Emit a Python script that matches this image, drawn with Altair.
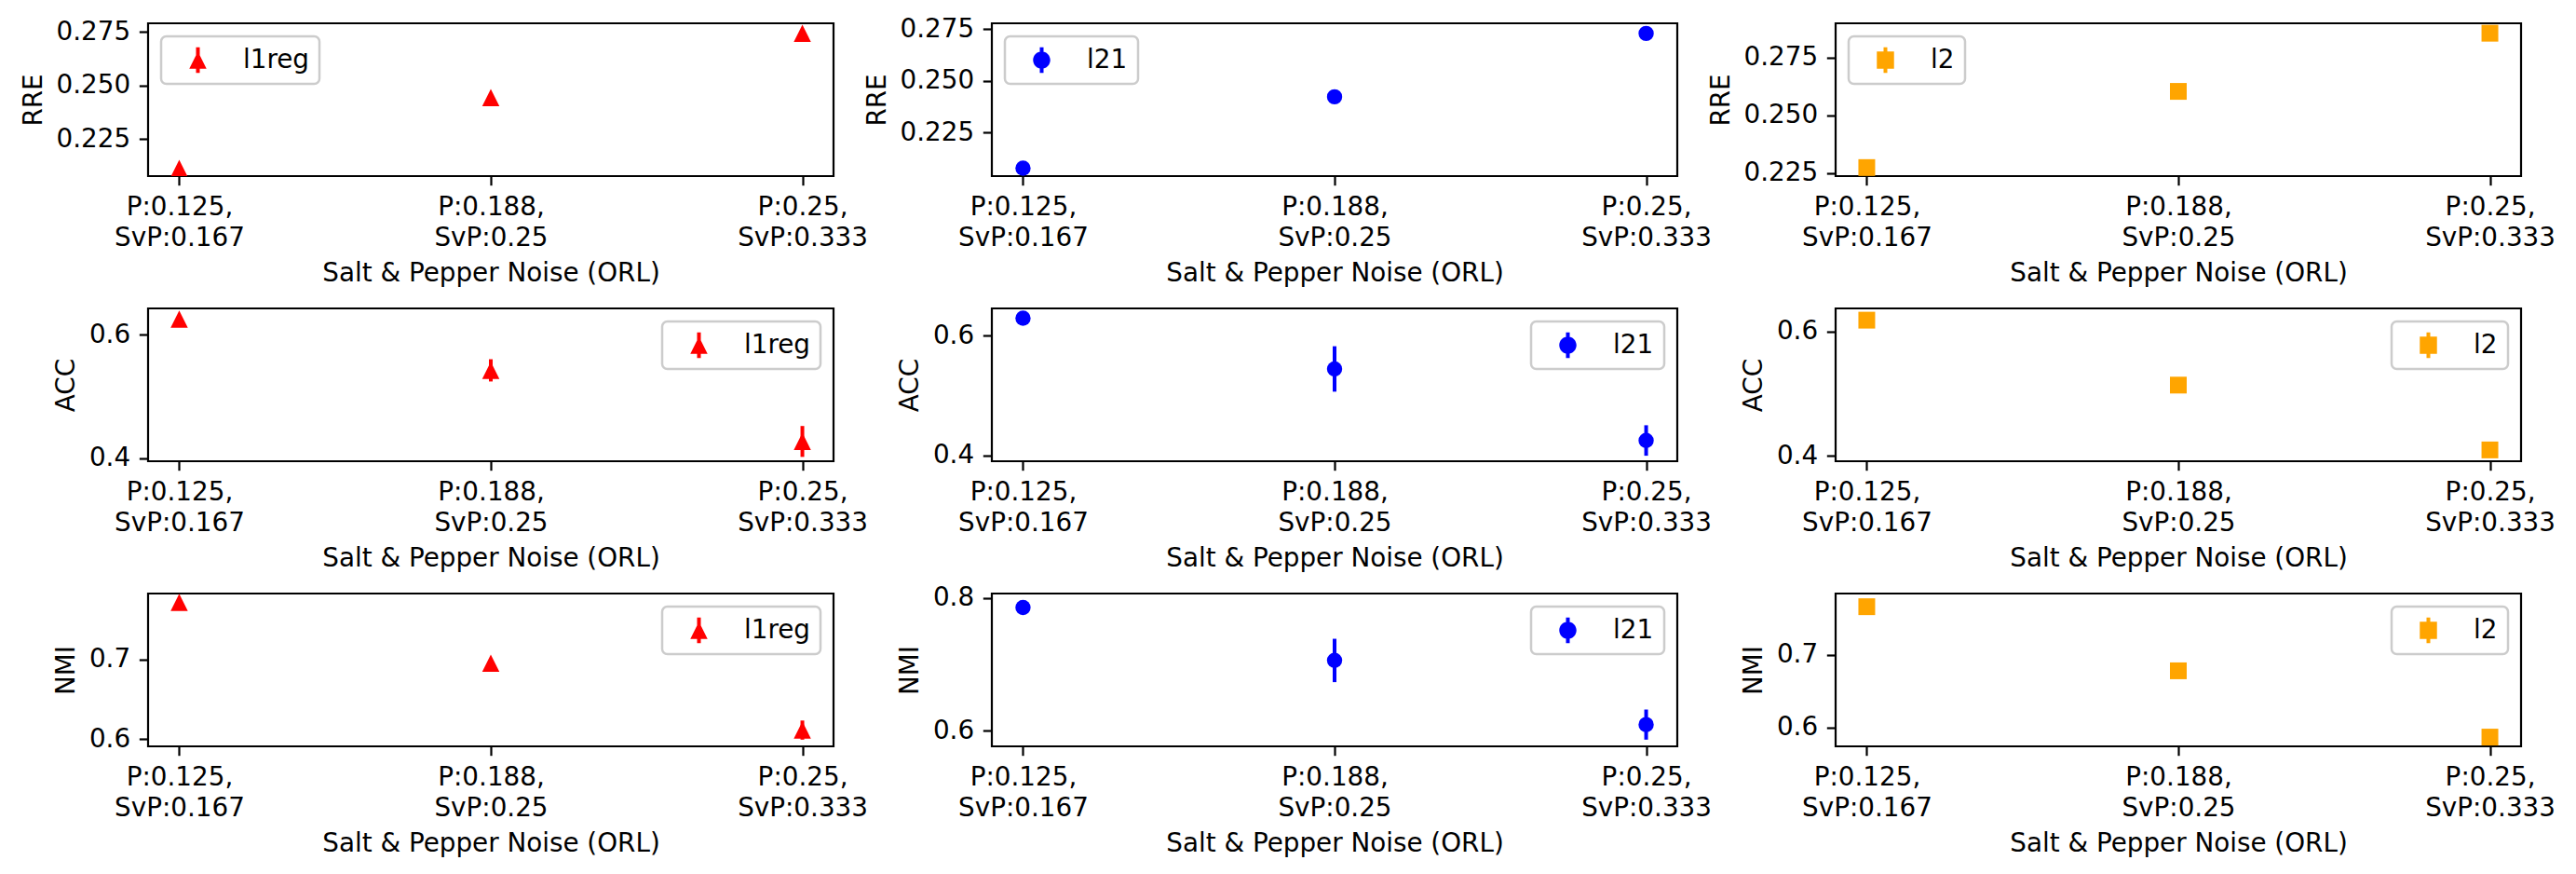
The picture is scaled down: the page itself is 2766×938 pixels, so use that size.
import altair as alt
import pandas as pd

# ---------------- data ----------------
noise_labels = ["P:0.125,\nSvP:0.167", "P:0.188,\nSvP:0.25", "P:0.25,\nSvP:0.333"]
x_title = "Salt & Pepper Noise (ORL)"
metrics = ["RRE", "ACC", "NMI"]
methods = ["l1reg", "l21", "l2"]
method_colors = ["#ff0000", "#0000ff", "#ffa500"]

l1reg_rre = [0.2114, 0.2444, 0.2744]
l1reg_rre_err = [0.001, 0.001, 0.001]
l1reg_acc = [0.6251, 0.5424, 0.4274]
l1reg_acc_err = [0.004, 0.018, 0.025]
l1reg_nmi = [0.7714, 0.6951, 0.6111]
l1reg_nmi_err = [0.003, 0.004, 0.012]

l21_rre = [0.2077, 0.2422, 0.2728]
l21_rre_err = [0.001, 0.001, 0.001]
l21_acc = [0.6294, 0.5444, 0.4247]
l21_acc_err = [0.005, 0.038, 0.0255]
l21_nmi = [0.7856, 0.7057, 0.6090]
l21_nmi_err = [0.004, 0.0327, 0.0227]

l2_rre = [0.2273, 0.2603, 0.2855]
l2_rre_err = [0.001, 0.001, 0.001]
l2_acc = [0.6185, 0.5140, 0.4097]
l2_acc_err = [0.003, 0.003, 0.003]
l2_nmi = [0.7658, 0.6777, 0.5866]
l2_nmi_err = [0.003, 0.003, 0.003]

# y-axis limits and tick values
rre_domains = [[0.2078, 0.2791], [0.2039, 0.2777], [0.2236, 0.2898]]
acc_domains = [[0.3954, 0.6426], [0.3900, 0.6457], [0.3915, 0.6374]]
nmi_domains = [[0.5907, 0.7825], [0.5762, 0.8066], [0.5739, 0.7839]]
rre_ticks = [[0.225, 0.25, 0.275], [0.225, 0.25, 0.275], [0.225, 0.25, 0.275]]
acc_ticks = [[0.4, 0.6], [0.4, 0.6], [0.4, 0.6]]
nmi_ticks = [[0.6, 0.7], [0.6, 0.8], [0.6, 0.7]]

# ---------------- styling ----------------
FS = 27.8
FONT = "DejaVu Sans"
W, H = 736, 164

marker_shapes = ["M0,-1L-1,1L1,1Z", "circle", "square"]
marker_sizes = [342, 269, 324]

# legend handles: marker with an error-bar line through it, drawn inside a
# wide (handle-length) symbol box so that spacing matches matplotlib
LEG_SIZE = 3192  # sqrt -> ~56.5 px handle box
m = 0.327  # marker half-size in legend units
bar = " M-0.071,-0.49V0.49H0.071V-0.49Z"
legend_shapes = [
    f"M0,-{m}L-{m},{m}L{m},{m}Z" + bar,
    f"M-{m},0A{m},{m} 0 1,0 {m},0A{m},{m} 0 1,0 -{m},0Z" + bar,
    f"M-{m},-{m}L-{m},{m}L{m},{m}L{m},-{m}Z" + bar,
]

values_by_metric = {
    "RRE": [(l1reg_rre, l1reg_rre_err), (l21_rre, l21_rre_err), (l2_rre, l2_rre_err)],
    "ACC": [(l1reg_acc, l1reg_acc_err), (l21_acc, l21_acc_err), (l2_acc, l2_acc_err)],
    "NMI": [(l1reg_nmi, l1reg_nmi_err), (l21_nmi, l21_nmi_err), (l2_nmi, l2_nmi_err)],
}
domains_by_metric = {"RRE": rre_domains, "ACC": acc_domains, "NMI": nmi_domains}
ticks_by_metric = {"RRE": rre_ticks, "ACC": acc_ticks, "NMI": nmi_ticks}
fmt_by_metric = {"RRE": ".3f", "ACC": ".1f", "NMI": ".1f"}
legend_orient = {"RRE": "top-left", "ACC": "top-right", "NMI": "top-right"}


def panel(metric, mi):
    vals, errs = values_by_metric[metric][mi]
    df = pd.DataFrame({
        "noise": noise_labels,
        "value": vals,
        "err": errs,
        "method": methods[mi],
    })
    df["lo"] = df["value"] - df["err"]
    df["hi"] = df["value"] + df["err"]

    xenc = alt.X(
        "noise:N",
        sort=noise_labels,
        scale=alt.Scale(type="point", padding=0.1),
        axis=alt.Axis(
            title=x_title,
            labelExpr="split(datum.label, '\\n')",
            labelAngle=0,
            labelOverlap=False,
            labelBaseline="top",
        ),
    )
    yaxis = alt.Axis(
        title=metric,
        values=ticks_by_metric[metric][mi],
        format=fmt_by_metric[metric],
        labelOverlap=False,
    )
    yscale = alt.Scale(domain=domains_by_metric[metric][mi], nice=False, zero=False)

    rules = alt.Chart(df).mark_rule(
        strokeWidth=4, color=method_colors[mi], clip=True
    ).encode(
        x=xenc,
        y=alt.Y("lo:Q", scale=yscale, axis=yaxis, title=metric),
        y2="hi:Q",
    )
    pts = alt.Chart(df).mark_point(
        filled=True,
        opacity=1,
        shape=marker_shapes[mi],
        size=marker_sizes[mi],
        clip=True,
    ).encode(
        x=xenc,
        y=alt.Y("value:Q", scale=yscale, axis=yaxis, title=metric),
        color=alt.Color(
            "method:N",
            scale=alt.Scale(domain=[methods[mi]], range=[method_colors[mi]]),
            legend=alt.Legend(
                title=None,
                orient=legend_orient[metric],
                offset=14,
                symbolType=legend_shapes[mi],
                symbolSize=LEG_SIZE,
                symbolStrokeWidth=0,
                symbolOffset=0,
                labelOffset=20,
                clipHeight=29,
            ),
        ),
    )
    return alt.layer(rules, pts).properties(width=W, height=H)


panels = [panel(mt, i) for mt in metrics for i in range(3)]

chart = alt.concat(
    *panels,
    columns=3,
    spacing={"row": 142, "column": 170},
    bounds="flush",
).resolve_scale(
    x="independent", y="independent", color="independent"
).resolve_axis(
    x="independent", y="independent"
).resolve_legend(
    color="independent"
).properties(
    padding={"left": 12, "top": 7, "right": 5, "bottom": 5},
    background="white",
).configure(
    font=FONT,
).configure_view(
    stroke="black", strokeWidth=2.2, fill="white"
).configure_axis(
    grid=False,
    domain=False,
    ticks=True,
    tickColor="black",
    tickWidth=2.2,
    tickSize=9.7,
    labelPadding=9.7,
    labelFont=FONT,
    titleFont=FONT,
    labelFontSize=FS,
    titleFontSize=FS,
    labelColor="black",
    titleColor="black",
    titleFontWeight="normal",
    labelLineHeight=33,
    titlePadding=10,
).configure_legend(
    labelFont=FONT,
    labelFontSize=FS,
    labelColor="black",
    padding=11,
    fillColor="rgba(255,255,255,0.8)",
    strokeColor="#cccccc",
    strokeWidth=2.5,
    cornerRadius=5.6,
)

chart.save("out.html", embed_options={"renderer": "svg", "actions": False})
